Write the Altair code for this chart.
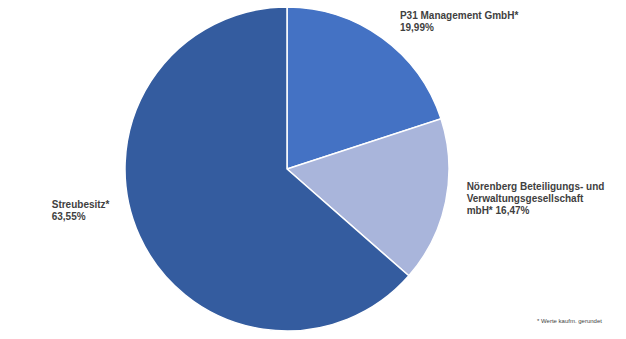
import altair as alt
import pandas as pd

names = ["P31 Management GmbH*",
         "Nörenberg Beteiligungs- und Verwaltungsgesellschaft mbH*",
         "Streubesitz*"]
values = [19.99, 16.47, 63.55]
labels = ["P31 Management GmbH*\n19,99%",
          "Nörenberg Beteiligungs- und\nVerwaltungsgesellschaft\nmbH* 16,47%",
          "Streubesitz*\n63,55%"]
colors = ["#4472C4", "#A9B5DB", "#345C9F"]
footnote = "* Werte kaufm. gerundet"

df = pd.DataFrame({"idx": range(len(names)), "name": names, "value": values, "label": labels})

FONT = "Liberation Sans"
TXT = "#3F3F3F"

base = alt.Chart(df)

pie = base.mark_arc(outerRadius=162, stroke="white", strokeWidth=1.5).encode(
    theta=alt.Theta("value:Q", stack=True),
    color=alt.Color("name:N", scale=alt.Scale(domain=names, range=colors), legend=None),
    order=alt.Order("idx:Q"),
    x=alt.value(287),
    y=alt.value(169),
)

offsets = [(16, -24), (18, -20.5), (-85, -37.6)]
text_layers = []
for i, (dx, dy) in enumerate(offsets):
    t = base.transform_window(
        cum="sum(value)", sort=[alt.SortField("idx")]
    ).transform_calculate(
        mid="datum.cum - datum.value / 2"
    ).transform_filter(
        alt.datum.idx == i
    ).mark_text(
        radius=165, align="left", baseline="top", dx=dx, dy=dy,
        font=FONT, fontSize=10, fontWeight="bold", color=TXT,
        lineBreak="\n", lineHeight=12,
    ).encode(
        theta=alt.Theta("mid:Q", scale=alt.Scale(domain=[0, sum(values)]), stack=None),
        text="label:N",
        x=alt.value(287),
        y=alt.value(169),
    )
    text_layers.append(t)

note = alt.Chart(pd.DataFrame({"t": [footnote]})).mark_text(
    align="left", baseline="middle", font=FONT, fontSize=6, color=TXT
).encode(text="t:N", x=alt.value(537), y=alt.value(321))

chart = alt.layer(pie, *text_layers, note).properties(
    width=626, height=339, autosize="none", padding=0
).configure_view(stroke=None)

chart.save("out.html", embed_options={"renderer": "svg", "actions": False})
